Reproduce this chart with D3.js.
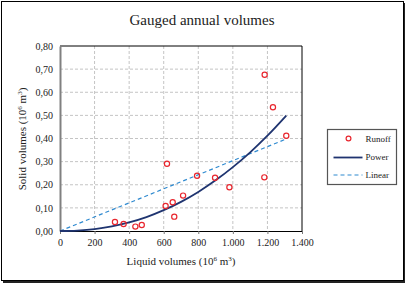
<!DOCTYPE html>
<html>
<head>
<meta charset="utf-8">
<script src="https://cdn.jsdelivr.net/npm/d3@7"></script>
<style>
  body { margin: 0; background: #fff; }
  text { font-family: "Liberation Serif", "Times New Roman", serif; fill: #222; }
</style>
</head>
<body>
<svg width="408" height="285"></svg>
<script>
// runoff observations (liquid 10^6 m3, solid 10^6 m3)
const runoffX = [318, 368, 436, 473, 611, 619, 652, 661, 712, 793, 897, 980, 1184, 1232, 1182, 1309];
const runoffY = [0.039, 0.030, 0.019, 0.026, 0.108, 0.291, 0.124, 0.062, 0.153, 0.239, 0.230, 0.189, 0.676, 0.535, 0.232, 0.412];

// power trend line
const powerX = [0, 100, 200, 300, 400, 500, 600, 700, 800, 900, 1000, 1100, 1200, 1309];
const powerY = [0, 0.002, 0.008, 0.020, 0.037, 0.060, 0.090, 0.126, 0.169, 0.219, 0.276, 0.340, 0.412, 0.499];

// linear trend line
const linearX = [0, 1309];
const linearY = [0, 0.398];

const xTicks = [0, 200, 400, 600, 800, 1000, 1200, 1400];
const yTicks = [0, 0.1, 0.2, 0.3, 0.4, 0.5, 0.6, 0.7, 0.8];

const locale = d3.formatLocale({ decimal: ",", thousands: ".", grouping: [3], currency: ["", ""] });

const svg = d3.select("svg");
const width = 408;
const height = 285;

// outer frame with shadow
svg.append("rect").attr("x", 3).attr("y", 3).attr("width", 402).attr("height", 280).attr("fill", "#222");
svg.append("rect").attr("x", 1.5).attr("y", 1.5).attr("width", 402).attr("height", 279)
  .attr("fill", "#fff").attr("stroke", "#000").attr("stroke-width", 1);

svg.append("text")
  .attr("x", 202).attr("y", 25)
  .attr("text-anchor", "middle")
  .style("font-size", "15px")
  .text("Gauged annual volumes");

const plot = { left: 60, right: 302, top: 46, bottom: 231 };

const x = d3.scaleLinear().domain([0, 1400]).range([plot.left, plot.right]);
const y = d3.scaleLinear().domain([0, 0.8]).range([plot.bottom, plot.top]);

// grid
svg.append("g")
  .selectAll("line")
  .data(yTicks.slice(1, -1))
  .enter()
  .append("line")
  .attr("x1", plot.left).attr("x2", plot.right)
  .attr("y1", (d) => y(d)).attr("y2", (d) => y(d))
  .attr("stroke", "#c4c4c4").attr("stroke-dasharray", "3,2");

svg.append("g")
  .selectAll("line")
  .data(xTicks.slice(1, -1))
  .enter()
  .append("line")
  .attr("y1", plot.top).attr("y2", plot.bottom)
  .attr("x1", (d) => x(d)).attr("x2", (d) => x(d))
  .attr("stroke", "#c4c4c4").attr("stroke-dasharray", "3,2");

// plot border
svg.append("path")
  .attr("d", `M${plot.left},${plot.top}H${plot.right}V${plot.bottom}`)
  .attr("fill", "none").attr("stroke", "#000").attr("stroke-width", 1);

// axes
const xAxis = svg.append("g")
  .attr("transform", `translate(0,${plot.bottom})`)
  .call(d3.axisBottom(x).tickValues(xTicks).tickFormat(locale.format(",d")).tickSize(3).tickPadding(5));
xAxis.select(".domain").attr("stroke", "#000");
xAxis.selectAll(".tick line").attr("stroke", "#777");
xAxis.selectAll("text").style("font-size", "10px").attr("fill", "#222");

const yAxis = svg.append("g")
  .attr("transform", `translate(${plot.left},0)`)
  .call(d3.axisLeft(y).tickValues(yTicks).tickFormat(locale.format(".2f")).tickSize(0).tickPadding(7));
yAxis.select(".domain").attr("stroke", "#808080").attr("stroke-width", 2);
yAxis.selectAll("text").style("font-size", "10px").attr("fill", "#222");

// axis titles
const xt = svg.append("text")
  .attr("x", 181).attr("y", 265)
  .attr("text-anchor", "middle")
  .style("font-size", "11px");
xt.append("tspan").text("Liquid volumes (10");
xt.append("tspan").attr("dy", -4).style("font-size", "7px").text("6");
xt.append("tspan").attr("dy", 4).text(" m");
xt.append("tspan").attr("dy", -4).style("font-size", "7px").text("3");
xt.append("tspan").attr("dy", 4).text(")");

const yt = svg.append("text")
  .attr("transform", "translate(26,139) rotate(-90)")
  .attr("text-anchor", "middle")
  .style("font-size", "11px");
yt.append("tspan").text("Solid volumes (10");
yt.append("tspan").attr("dy", -4).style("font-size", "7px").text("6");
yt.append("tspan").attr("dy", 4).text(" m");
yt.append("tspan").attr("dy", -4).style("font-size", "7px").text("3");
yt.append("tspan").attr("dy", 4).text(")");

// lines
const line = d3.line().x((d) => x(d[0])).y((d) => y(d[1]));

svg.append("path")
  .datum(linearX.map((d, i) => [d, linearY[i]]))
  .attr("d", line)
  .attr("fill", "none")
  .attr("stroke", "#2f8ad0").attr("stroke-width", 1.2).attr("stroke-dasharray", "4,3");

svg.append("path")
  .datum(powerX.map((d, i) => [d, powerY[i]]))
  .attr("d", line.curve(d3.curveMonotoneX))
  .attr("fill", "none")
  .attr("stroke", "#1f3470").attr("stroke-width", 1.8);

// runoff points
svg.append("g")
  .selectAll("circle")
  .data(runoffX)
  .enter()
  .append("circle")
  .attr("cx", (d) => x(d))
  .attr("cy", (d, i) => y(runoffY[i]))
  .attr("r", 2.6)
  .attr("fill", "none")
  .attr("stroke", "#e8262e").attr("stroke-width", 1.2);

// Legend
const legend = svg.append("g").attr("transform", "translate(327.5,129.5)");
legend.append("rect")
  .attr("width", 69).attr("height", 55)
  .attr("fill", "#fff").attr("stroke", "#555").attr("stroke-width", 1.2);

legend.append("circle")
  .attr("cx", 21).attr("cy", 9).attr("r", 2.4)
  .attr("fill", "none").attr("stroke", "#e8262e").attr("stroke-width", 1.2);
legend.append("line")
  .attr("x1", 6).attr("x2", 35).attr("y1", 28).attr("y2", 28)
  .attr("stroke", "#1f3470").attr("stroke-width", 1.8);
legend.append("line")
  .attr("x1", 6).attr("x2", 35).attr("y1", 45.5).attr("y2", 45.5)
  .attr("stroke", "#2f8ad0").attr("stroke-width", 1.2).attr("stroke-dasharray", "4,3");

legend.selectAll("text.lbl")
  .data(["Runoff", "Power", "Linear"])
  .enter()
  .append("text")
  .attr("class", "lbl")
  .attr("x", 38)
  .attr("y", (d, i) => 12 + i * 18)
  .style("font-size", "9px")
  .text((d) => d);
</script>
</body>
</html>
